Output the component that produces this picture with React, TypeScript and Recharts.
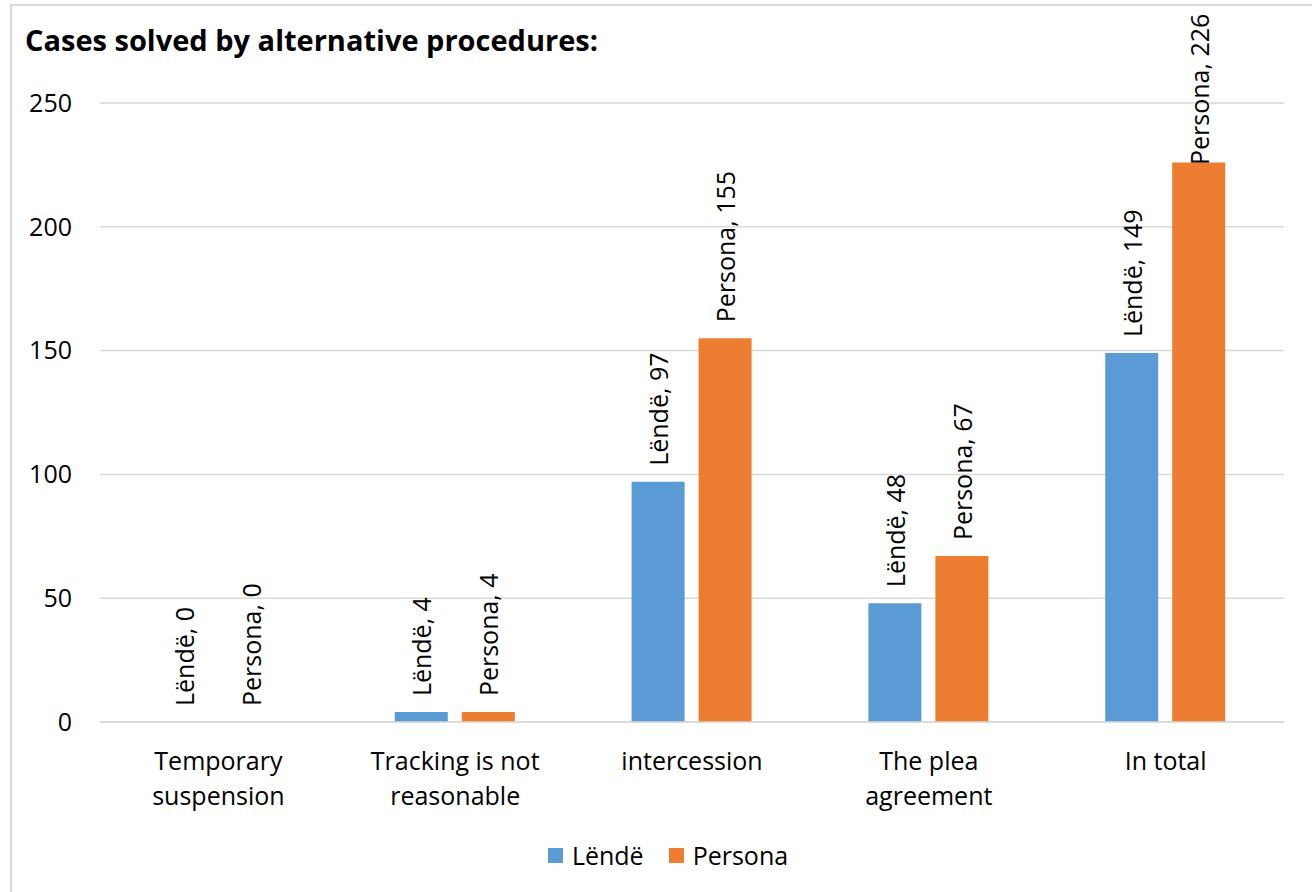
import React from "react";
import { BarChart, Bar, XAxis, YAxis, CartesianGrid, Legend, LabelList } from "recharts";

const categories = [
  "Temporary\nsuspension",
  "Tracking is not\nreasonable",
  "intercession",
  "The plea\nagreement",
  "In total",
];
const lendeValues = [0, 4, 97, 48, 149];
const personaValues = [0, 4, 155, 67, 226];
const yTicks = [0, 50, 100, 150, 200, 250];
const seriesNames = ["Lëndë", "Persona"];
const seriesColors = ["#5B9BD5", "#ED7D31"];
const title = "Cases solved by alternative procedures:";

const data = categories.map((name, i) => ({
  name,
  lende: lendeValues[i],
  persona: personaValues[i],
}));

const FONT = "'Open Sans', sans-serif";
const FS = 25;
const LABEL_MIN_Y = 165;

const makeLabel = (series: string) => (props: any) => {
  const { x, y, width, value } = props;
  const cx = Number(x) + Number(width) / 2;
  const ay = Math.max(Number(y) - 16, LABEL_MIN_Y);
  return (
    <text
      x={cx}
      y={ay}
      transform={`rotate(-90 ${cx} ${ay})`}
      textAnchor="start"
      dominantBaseline="central"
      fontFamily={FONT}
      fontSize={FS}
      fill="#000"
    >
      {`${series}, ${value}`}
    </text>
  );
};

const CategoryTick = (props: any) => {
  const { x, y, payload } = props;
  const lines = String(payload.value).split("\n");
  return (
    <text
      x={x}
      y={y}
      textAnchor="middle"
      fontFamily={FONT}
      fontSize={FS}
      fill="#000"
    >
      {lines.map((l, i) => (
        <tspan key={i} x={x} dy={i === 0 ? 40 : 35}>
          {l}
        </tspan>
      ))}
    </text>
  );
};

const LegendContent = () => (
  <div
    style={{
      height: 54,
      display: "flex",
      justifyContent: "center",
      alignItems: "center",
      paddingLeft: 52,
      fontFamily: FONT,
      fontSize: FS,
      color: "#000",
    }}
  >
    {seriesNames.map((n, i) => (
      <div key={n} style={{ display: "flex", alignItems: "center", marginRight: i === 0 ? 25 : 0 }}>
        <span
          style={{
            display: "inline-block",
            width: 15,
            height: 15,
            background: seriesColors[i],
            marginRight: 9,
          }}
        />
        <span>{n}</span>
      </div>
    ))}
  </div>
);

const zeroVisible = (value: any) => (Number(value) === 0 ? 0.001 : 0);

export default function App() {
  return (
    <div
      style={{
        position: "absolute",
        left: 0,
        top: 0,
        width: 1312,
        height: 892,
        background: "#fff",
        overflow: "hidden",
      }}
    >
      <div
        style={{
          position: "absolute",
          left: 10,
          top: 4,
          width: 1400,
          height: 1000,
          borderLeft: "2px solid #d9d9d9",
          borderTop: "2px solid #d9d9d9",
        }}
      />
      <div style={{ position: "absolute", left: 0, top: 0 }}>
        <BarChart
          width={1312}
          height={892}
          data={data}
          margin={{ top: 103, right: 28, left: 0, bottom: 10 }}
          barSize={53}
          barGap={14}
        >
          <CartesianGrid vertical={false} stroke="#d9d9d9" strokeWidth={1.5} />
          <XAxis
            dataKey="name"
            interval={0}
            tickLine={false}
            axisLine={{ stroke: "#d9d9d9", strokeWidth: 1.5 }}
            tick={<CategoryTick />}
            height={106}
          />
          <YAxis
            width={100}
            domain={[0, 250]}
            ticks={yTicks}
            tickLine={false}
            axisLine={false}
            tickMargin={22}
            tick={{ fontFamily: FONT, fontSize: FS, fill: "#000" }}
          />
          <Legend verticalAlign="bottom" height={54} content={<LegendContent />} />
          <Bar
            dataKey="lende"
            name={seriesNames[0]}
            fill={seriesColors[0]}
            isAnimationActive={false}
            minPointSize={zeroVisible}
          >
            <LabelList dataKey="lende" content={makeLabel(seriesNames[0])} />
          </Bar>
          <Bar
            dataKey="persona"
            name={seriesNames[1]}
            fill={seriesColors[1]}
            isAnimationActive={false}
            minPointSize={zeroVisible}
          >
            <LabelList dataKey="persona" content={makeLabel(seriesNames[1])} />
          </Bar>
        </BarChart>
      </div>
      <div
        style={{
          position: "absolute",
          left: 25,
          top: 21,
          fontFamily: FONT,
          fontWeight: 700,
          fontSize: 29,
          lineHeight: "38px",
          color: "#000",
          whiteSpace: "nowrap",
        }}
      >
        {title}
      </div>
    </div>
  );
}
